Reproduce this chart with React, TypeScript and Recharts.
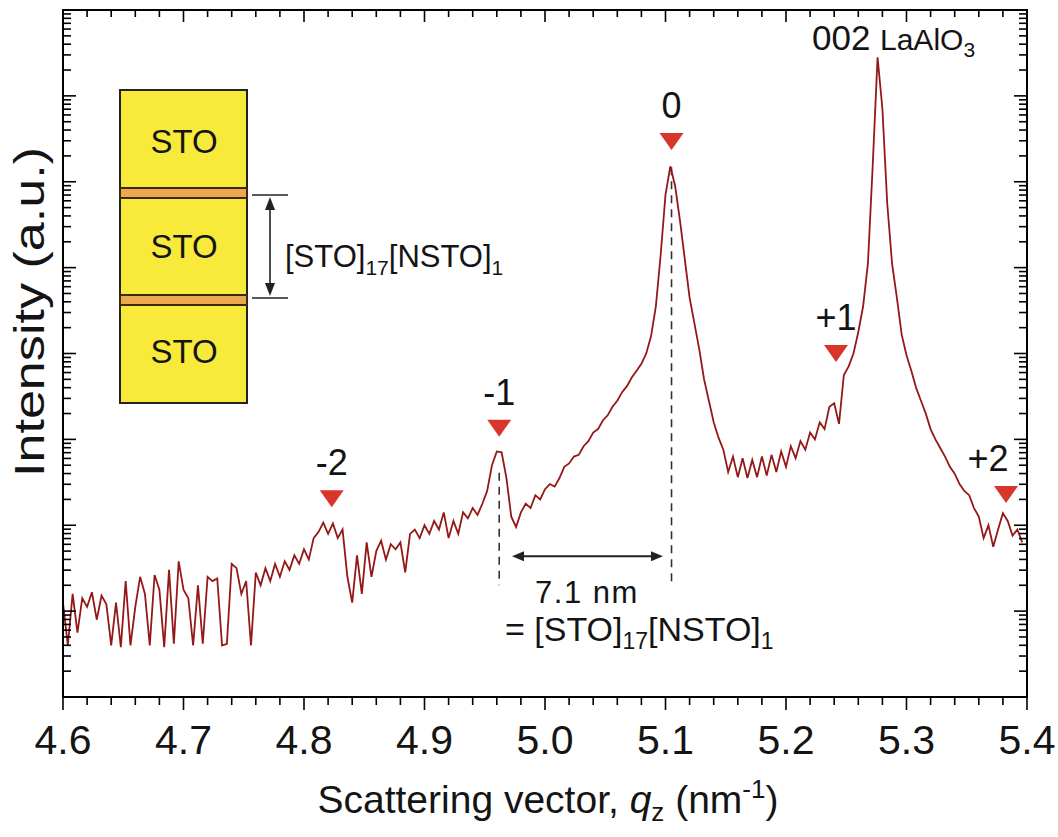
import React from "react";
import { LineChart, Line, XAxis, YAxis, ReferenceDot, ReferenceLine } from "recharts";

// ---------- data ----------
const qValues = [
  4.600, 4.604, 4.608, 4.612, 4.616, 4.620, 4.624, 4.628, 4.632, 4.636,
  4.640, 4.644, 4.648, 4.652, 4.656, 4.660, 4.664, 4.668, 4.672, 4.676,
  4.680, 4.684, 4.688, 4.692, 4.696, 4.700, 4.704, 4.708, 4.712, 4.716,
  4.720, 4.724, 4.728, 4.732, 4.736, 4.740, 4.744, 4.748, 4.752, 4.756,
  4.760, 4.764, 4.768, 4.772, 4.776, 4.780, 4.784, 4.788, 4.792, 4.796,
  4.800, 4.804, 4.808, 4.812, 4.816, 4.820, 4.824, 4.828, 4.832, 4.836,
  4.840, 4.844, 4.848, 4.852, 4.856, 4.860, 4.864, 4.868, 4.872, 4.876,
  4.880, 4.884, 4.888, 4.892, 4.896, 4.900, 4.904, 4.908, 4.912, 4.916,
  4.920, 4.924, 4.928, 4.932, 4.936, 4.940, 4.944, 4.948, 4.952, 4.956,
  4.960, 4.964, 4.968, 4.972, 4.976, 4.980, 4.984, 4.988, 4.992, 4.996,
  5.000, 5.004, 5.008, 5.012, 5.016, 5.020, 5.024, 5.028, 5.032, 5.036,
  5.040, 5.044, 5.048, 5.052, 5.056, 5.060, 5.064, 5.068, 5.072, 5.076,
  5.080, 5.084, 5.088, 5.092, 5.096, 5.100, 5.104, 5.108, 5.112, 5.116,
  5.120, 5.124, 5.128, 5.132, 5.136, 5.140, 5.144, 5.148, 5.152, 5.156,
  5.160, 5.164, 5.168, 5.172, 5.176, 5.180, 5.184, 5.188, 5.192, 5.196,
  5.200, 5.204, 5.208, 5.212, 5.216, 5.220, 5.224, 5.228, 5.232, 5.236,
  5.240, 5.244, 5.248, 5.252, 5.256, 5.260, 5.264, 5.268, 5.272, 5.276,
  5.280, 5.284, 5.288, 5.292, 5.296, 5.300, 5.304, 5.308, 5.312, 5.316,
  5.320, 5.324, 5.328, 5.332, 5.336, 5.340, 5.344, 5.348, 5.352, 5.356,
  5.360, 5.364, 5.368, 5.372, 5.376, 5.380, 5.384, 5.388, 5.392, 5.396,
];

// log10 of intensity (a.u.)
const logIntensity = [
  1.10, 0.60, 1.20, 0.75, 1.15, 1.05, 1.22, 0.90, 1.18, 1.08,
  0.60, 1.10, 0.58, 1.35, 0.60, 1.05, 1.40, 1.20, 0.60, 1.42,
  1.25, 0.58, 1.48, 0.62, 1.58, 1.25, 1.15, 0.60, 1.30, 0.62,
  1.40, 1.35, 1.38, 0.60, 0.62, 1.55, 1.50, 1.20, 1.35, 0.60,
  1.45, 1.30, 1.50, 1.35, 1.55, 1.40, 1.58, 1.48, 1.65, 1.55,
  1.72, 1.60, 1.85, 1.92, 2.03, 1.90, 2.02, 1.85, 1.95, 1.40,
  1.10, 1.65, 1.20, 1.80, 1.40, 1.70, 1.82, 1.60, 1.78, 1.72,
  1.80, 1.45, 1.90, 1.95, 1.85, 2.00, 1.90, 2.05, 1.95, 2.15,
  1.85, 2.05, 1.90, 2.15, 2.08, 2.20, 2.12, 2.25, 2.40, 2.70,
  2.86, 2.85, 2.55, 2.10, 1.98, 2.15, 2.25, 2.20, 2.35, 2.30,
  2.42, 2.48, 2.45, 2.55, 2.68, 2.72, 2.80, 2.82, 2.92, 2.98,
  3.08, 3.12, 3.22, 3.28, 3.38, 3.45, 3.55, 3.62, 3.72, 3.80,
  3.88, 4.00, 4.20, 4.55, 5.15, 5.85, 6.18, 5.95, 5.55, 5.10,
  4.65, 4.35, 4.05, 3.70, 3.45, 3.20, 3.02, 2.88, 2.62, 2.80,
  2.56, 2.78, 2.55, 2.76, 2.56, 2.80, 2.58, 2.82, 2.62, 2.86,
  2.68, 2.92, 2.78, 2.98, 2.88, 3.08, 3.00, 3.20, 3.12, 3.38,
  3.42, 3.18, 3.75, 3.85, 4.00, 4.25, 4.55, 5.05, 6.20, 7.45,
  6.85, 5.75, 5.05, 4.65, 4.22, 3.98, 3.80, 3.60, 3.45, 3.30,
  3.12, 3.00, 2.90, 2.80, 2.68, 2.60, 2.48, 2.40, 2.35, 2.20,
  2.10, 1.85, 2.00, 1.75, 1.95, 2.14, 2.05, 1.88, 1.95, 1.80,
];

const xMajorTicks = [4.6, 4.7, 4.8, 4.9, 5.0, 5.1, 5.2, 5.3, 5.4];
const xTickLabels = ["4.6", "4.7", "4.8", "4.9", "5.0", "5.1", "5.2", "5.3", "5.4"];
const yDecades = [1, 1e1, 1e2, 1e3, 1e4, 1e5, 1e6, 1e7, 1e8];

// satellite orders
const orderLabels = ["-2", "-1", "0", "+1", "+2"];
const orderQ = [4.823, 4.962, 5.105, 5.2415, 5.3826];
const orderMarkerLogI = [2.21, 3.03, 6.37, 3.9, 2.26];

// period guide lines (q of -1 and 0 orders)
const guideQ = [4.962, 5.105];
const guideTopLogI = [2.61, 6.17];
const guideBottomLogI = 1.3;
const arrowQ = [4.9726, 5.0979];
const arrowLogI = 1.64;

// ---------- layout ----------
const W = 1058;
const H = 837;
const PLOT_LEFT = 63;
const PLOT_TOP = 10;
const PLOT_RIGHT = 1027;
const PLOT_BOTTOM = 697;
const FONT = "'Liberation Sans', Arial, Helvetica, sans-serif";
const LINE_COLOR = "#951818";
const MARK_COLOR = "#d8352b";
const TEXT = "#141414";
const LABEL_SHIFT: Record<string, number> = { "+2": -18 };

const data = qValues.map((q, i) => ({ q, I: Math.pow(10, logIntensity[i]) }));

const xTicks: number[] = [];
xMajorTicks.forEach((m, i) => {
  xTicks.push(m);
  if (i < xMajorTicks.length - 1) {
    for (let k = 1; k < 5; k++) xTicks.push(Math.round((m + 0.02 * k) * 1000) / 1000);
  }
});

const yTicks: number[] = [];
yDecades.forEach((d, i) => {
  yTicks.push(d);
  if (i < yDecades.length - 1) {
    for (let k = 2; k <= 9; k++) yTicks.push(k * d);
  }
});

const isXMajor = (v: number) => xMajorTicks.findIndex((m) => Math.abs(m - v) < 1e-6);

const XTick = (props: any) => {
  const { x, payload } = props;
  const v = payload.value as number;
  const mi = isXMajor(v);
  const major = mi >= 0;
  return (
    <g>
      <line x1={x} x2={x} y1={PLOT_BOTTOM} y2={PLOT_BOTTOM + (major ? 13 : 8)} stroke="#000" strokeWidth={1.6} />
      <line x1={x} x2={x} y1={PLOT_TOP} y2={PLOT_TOP + (major ? 12 : 7)} stroke="#000" strokeWidth={1.6} />
      {major && (
        <text x={x} y={PLOT_BOTTOM + 57} textAnchor="middle" fontFamily={FONT} fontSize={41} fill={TEXT}>
          {xTickLabels[mi]}
        </text>
      )}
    </g>
  );
};

const YTick = (props: any) => {
  const { y, payload } = props;
  const v = payload.value as number;
  const lg = Math.log10(v);
  const major = Math.abs(lg - Math.round(lg)) < 1e-6;
  const len = major ? 13 : 8;
  return (
    <g>
      <line x1={PLOT_LEFT} x2={PLOT_LEFT + len} y1={y} y2={y} stroke="#000" strokeWidth={1.6} />
      <line x1={PLOT_RIGHT} x2={PLOT_RIGHT - len} y1={y} y2={y} stroke="#000" strokeWidth={1.6} />
    </g>
  );
};

const makeMarker = (label: string) => (props: any) => {
  const { cx, cy } = props;
  const w = 24;
  const h = 17;
  const dx = LABEL_SHIFT[label] || 0;
  return (
    <g>
      <polygon points={`${cx - w / 2},${cy - h} ${cx + w / 2},${cy - h} ${cx},${cy}`} fill={MARK_COLOR} />
      <text x={cx + dx} y={cy - h - 15} textAnchor="middle" fontFamily={FONT} fontSize={36} fill={TEXT}>
        {label}
      </text>
    </g>
  );
};

const ArrowShape = (props: any) => {
  const { x1, y1, x2, y2 } = props;
  const a = 12;
  const b = 5;
  return (
    <g>
      <line x1={x1 + 4} y1={y1} x2={x2 - 4} y2={y2} stroke="#222" strokeWidth={2} />
      <polygon points={`${x1},${y1} ${x1 + a},${y1 - b} ${x1 + a},${y1 + b}`} fill="#222" />
      <polygon points={`${x2},${y2} ${x2 - a},${y2 - b} ${x2 - a},${y2 + b}`} fill="#222" />
    </g>
  );
};

const Overlay = () => (
  <svg
    width={W}
    height={H}
    style={{ position: "absolute", left: 0, top: 0, pointerEvents: "none" }}
    fontFamily={FONT}
  >
    {/* frame */}
    <rect x={PLOT_LEFT} y={PLOT_TOP} width={PLOT_RIGHT - PLOT_LEFT} height={PLOT_BOTTOM - PLOT_TOP} fill="none" stroke="#000" strokeWidth={2} />

    {/* inset: layer stack */}
    <rect x={120} y={90} width={127} height={313} fill="#f7ea3b" stroke="#222" strokeWidth={2} />
    <rect x={120} y={188} width={127} height={10} fill="#eba84e" stroke="#3b2a10" strokeWidth={2} />
    <rect x={120} y={295} width={127} height={10} fill="#eba84e" stroke="#3b2a10" strokeWidth={2} />
    <text x={184} y={153} textAnchor="middle" fontSize={33} fill={TEXT}>STO</text>
    <text x={184} y={258} textAnchor="middle" fontSize={33} fill={TEXT}>STO</text>
    <text x={184} y={363} textAnchor="middle" fontSize={33} fill={TEXT}>STO</text>

    <line x1={252} y1={195} x2={288} y2={195} stroke="#222" strokeWidth={1.6} />
    <line x1={252} y1={298} x2={288} y2={298} stroke="#222" strokeWidth={1.6} />
    <line x1={270} y1={205} x2={270} y2={288} stroke="#222" strokeWidth={1.6} />
    <polygon points="270,197 265,210 275,210" fill="#222" />
    <polygon points="270,296 265,283 275,283" fill="#222" />
    <text x={285} y={267} fontSize={31} fill={TEXT}>
      [STO]<tspan fontSize={21} dy={8}>17</tspan><tspan dy={-8}>[NSTO]</tspan><tspan fontSize={21} dy={8}>1</tspan>
    </text>

    {/* substrate peak label */}
    <text x={812} y={50} fontSize={35} fill={TEXT}>002</text>
    <text x={880} y={50} fontSize={30} fill={TEXT}>
      LaAlO<tspan fontSize={21} dy={7}>3</tspan>
    </text>

    {/* period annotation */}
    <text x={587} y={603} textAnchor="middle" fontSize={31} letterSpacing={1.5} fill={TEXT}>7.1 nm</text>
    <text x={505} y={641} fontSize={34} fill={TEXT}>
      = [STO]<tspan fontSize={23} dy={8}>17</tspan><tspan dy={-8}>[NSTO]</tspan><tspan fontSize={23} dy={8}>1</tspan>
    </text>

    {/* axis titles */}
    <text
      x={0}
      y={0}
      transform="translate(44,312) rotate(-90)"
      textAnchor="middle"
      fontSize={42}
      textLength={330}
      lengthAdjust="spacingAndGlyphs"
      fill={TEXT}
    >
      Intensity (a.u.)
    </text>
    <text x={548} y={813} textAnchor="middle" fontSize={39} fill={TEXT}>
      Scattering vector, <tspan fontStyle="italic">q</tspan><tspan fontSize={26} dy={8}>z</tspan>
      <tspan dy={-8}> (nm</tspan><tspan fontSize={26} dy={-15}>-1</tspan><tspan dy={15}>)</tspan>
    </text>
  </svg>
);

export default function App() {
  return (
    <div style={{ position: "absolute", left: 0, top: 0, width: W, height: H, background: "#fff" }}>
      <LineChart
        width={W}
        height={H}
        data={data}
        margin={{ top: PLOT_TOP, right: W - PLOT_RIGHT, left: 0, bottom: 0 }}
      >
        <XAxis
          dataKey="q"
          type="number"
          domain={[4.6, 5.4]}
          allowDataOverflow
          ticks={xTicks}
          interval={0}
          tick={(p: any) => <XTick {...p} />}
          tickLine={false}
          axisLine={false}
          tickSize={0}
          tickMargin={0}
          height={H - PLOT_BOTTOM}
        />
        <YAxis
          type="number"
          scale="log"
          domain={[1, 1e8]}
          allowDataOverflow
          ticks={yTicks}
          interval={0}
          tick={(p: any) => <YTick {...p} />}
          tickLine={false}
          axisLine={false}
          tickSize={0}
          tickMargin={0}
          width={PLOT_LEFT}
        />
        {guideQ.map((q, i) => (
          <ReferenceLine
            key={`g${i}`}
            segment={[
              { x: q, y: Math.pow(10, guideTopLogI[i]) },
              { x: q, y: Math.pow(10, guideBottomLogI) },
            ]}
            stroke="#333"
            strokeWidth={1.6}
            strokeDasharray="8 6"
            ifOverflow="visible"
          />
        ))}
        <ReferenceLine
          segment={[
            { x: arrowQ[0], y: Math.pow(10, arrowLogI) },
            { x: arrowQ[1], y: Math.pow(10, arrowLogI) },
          ]}
          shape={(p: any) => <ArrowShape {...p} />}
          ifOverflow="visible"
        />
        <Line
          dataKey="I"
          type="linear"
          stroke={LINE_COLOR}
          strokeWidth={1.8}
          dot={false}
          activeDot={false}
          isAnimationActive={false}
        />
        {orderLabels.map((lab, i) => (
          <ReferenceDot
            key={lab}
            x={orderQ[i]}
            y={Math.pow(10, orderMarkerLogI[i])}
            r={0}
            ifOverflow="visible"
            shape={makeMarker(lab)}
          />
        ))}
      </LineChart>
      <Overlay />
    </div>
  );
}
